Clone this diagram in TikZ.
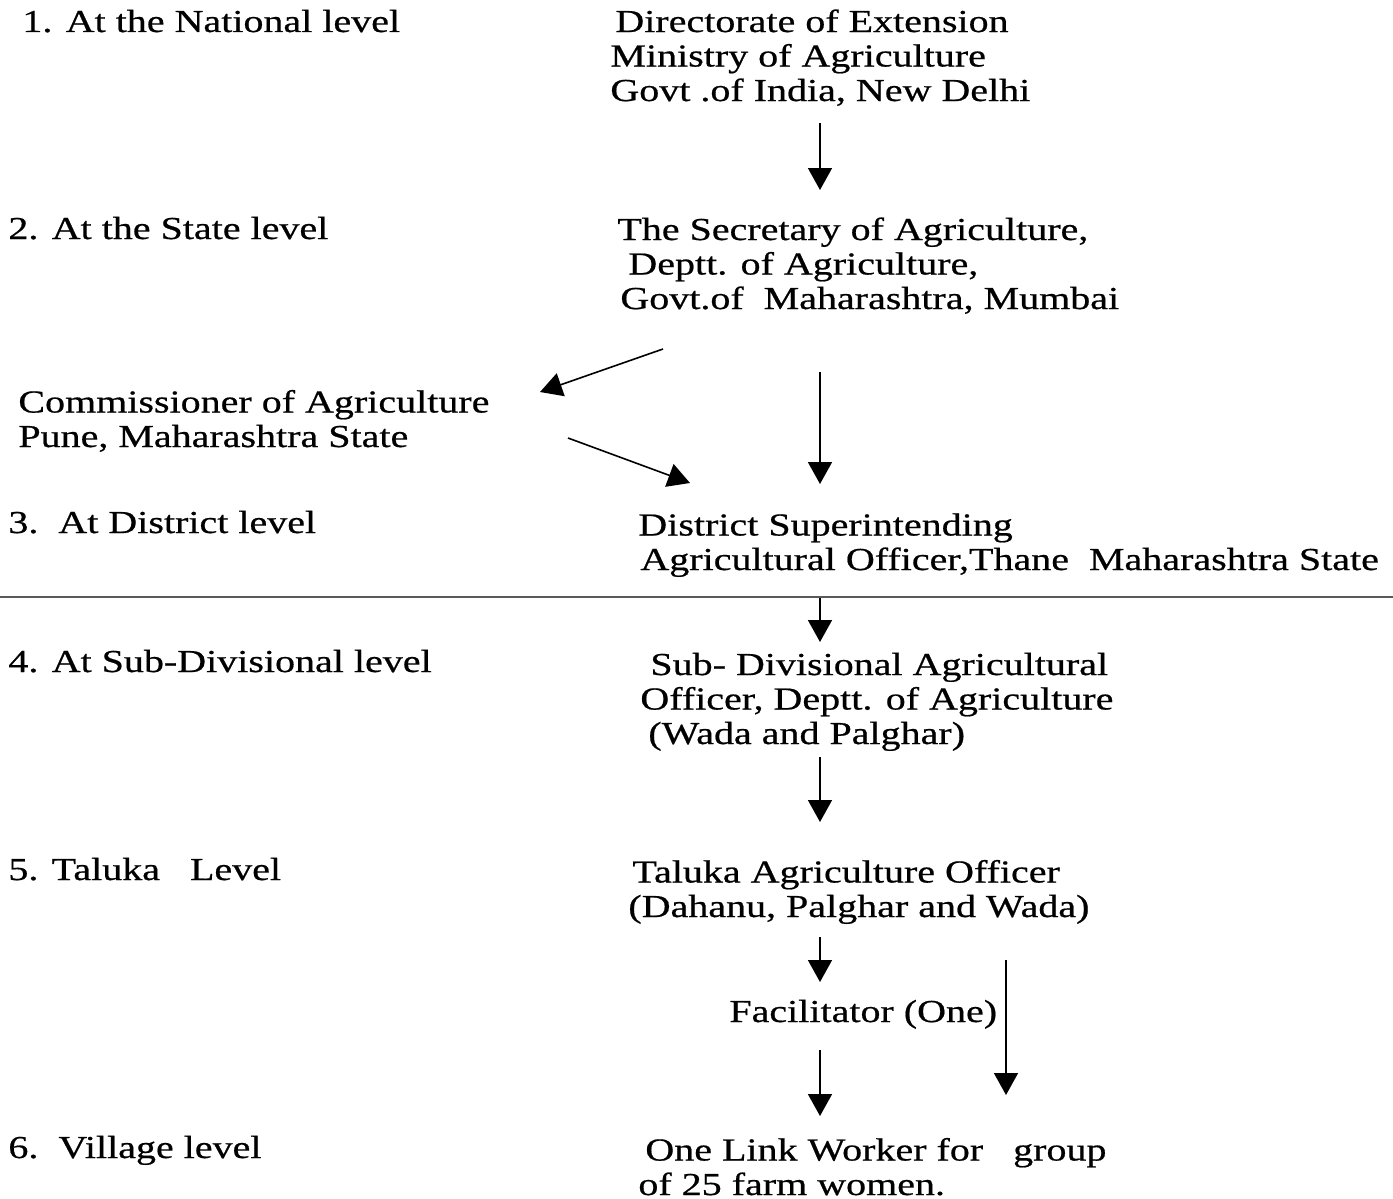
\documentclass[tikz,border=0pt]{standalone}
\usepackage{fontspec}
\setmainfont{Liberation Serif}[FakeStretch=1.25, FakeBold=0.6]
\usetikzlibrary{arrows.meta}

\begin{document}
\begin{tikzpicture}[
  x=0.5pt, y=-0.5pt,
  level/.style={anchor=base west, inner sep=0pt, font=\fontsize{16}{17.25}\selectfont},
  office/.style={anchor=base west, inner sep=0pt, align=left,
    font=\fontsize{16}{17.25}\selectfont},
  arrow/.style={-{Triangle[width=12pt,length=11pt]}, line width=0.8pt}
]
\useasboundingbox (0,0) rectangle (1393,1199);

% levels on the left
\node[level] (lnat) at (22,32) {1. At the National level};
\node[level] (lstate) at (8,239) {2. At the State level};
\node[level] (ldist) at (8,533) {3.\ \ At District level};
\node[level] (lsub) at (8,672) {4. At Sub-Divisional level};
\node[level] (ltal) at (8,880) {5. Taluka\ \ \ Level};
\node[level] (lvil) at (8,1158) {6.\ \ Village level};

% offices (placed at the baseline of their last line)
\node[office] (nat) at (610,101) {\hspace*{2.5pt}Directorate of Extension\\
  Ministry of Agriculture\\Govt .of India, New Delhi};
\node[office] (state) at (617,309) {The Secretary of Agriculture,\\
  \hspace*{5.5pt}Deptt. of Agriculture,\\\hspace*{1.5pt}Govt.of\ \ Maharashtra, Mumbai};
\node[office] (comm) at (18,447) {Commissioner of Agriculture\\Pune, Maharashtra State};
\node[office] (dist) at (638,570) {District Superintending\\
  \hspace*{1pt}Agricultural Officer,Thane\ \ Maharashtra State};
\node[office] (sub) at (640,744) {\hspace*{5pt}Sub- Divisional Agricultural\\
  Officer, Deptt. of Agriculture\\\hspace*{4pt}(Wada and Palghar)};
\node[office] (tal) at (628,917) {\hspace*{2pt}Taluka Agriculture Officer\\
  (Dahanu, Palghar and Wada)};
\node[office] (fac) at (729,1022) {Facilitator (One)};
\node[office] (vil) at (638,1195) {\hspace*{3.5pt}One Link Worker for\ \ \ group\\
  of 25 farm women.};

% arrow ends
\coordinate (natout) at (820,123);
\coordinate (statein) at (820,190);
\coordinate (stateoutl) at (663,349);
\coordinate (commin) at (540,392);
\coordinate (stateout) at (820,372);
\coordinate (distin) at (820,484);
\coordinate (commout) at (568,438);
\coordinate (distinl) at (690,483);
\coordinate (distout) at (820,598);
\coordinate (subin) at (820,642);
\coordinate (subout) at (820,757);
\coordinate (talin) at (820,822);
\coordinate (talout) at (820,937);
\coordinate (facin) at (820,982);
\coordinate (taloutr) at (1006,960);
\coordinate (vilinr) at (1006,1095);
\coordinate (facout) at (820,1050);
\coordinate (vilin) at (820,1116);

\draw[arrow] (natout) -- (statein);
\draw[arrow] (stateoutl) -- (commin);
\draw[arrow] (stateout) -- (distin);
\draw[arrow] (commout) -- (distinl);
\draw[arrow] (distout) -- (subin);
\draw[arrow] (subout) -- (talin);
\draw[arrow] (talout) -- (facin);
\draw[arrow] (taloutr) -- (vilinr);
\draw[arrow] (facout) -- (vilin);

% divider below district level
\draw[black!65, line width=0.7pt] (0,597) -- (1393,597);
\end{tikzpicture}
\end{document}
